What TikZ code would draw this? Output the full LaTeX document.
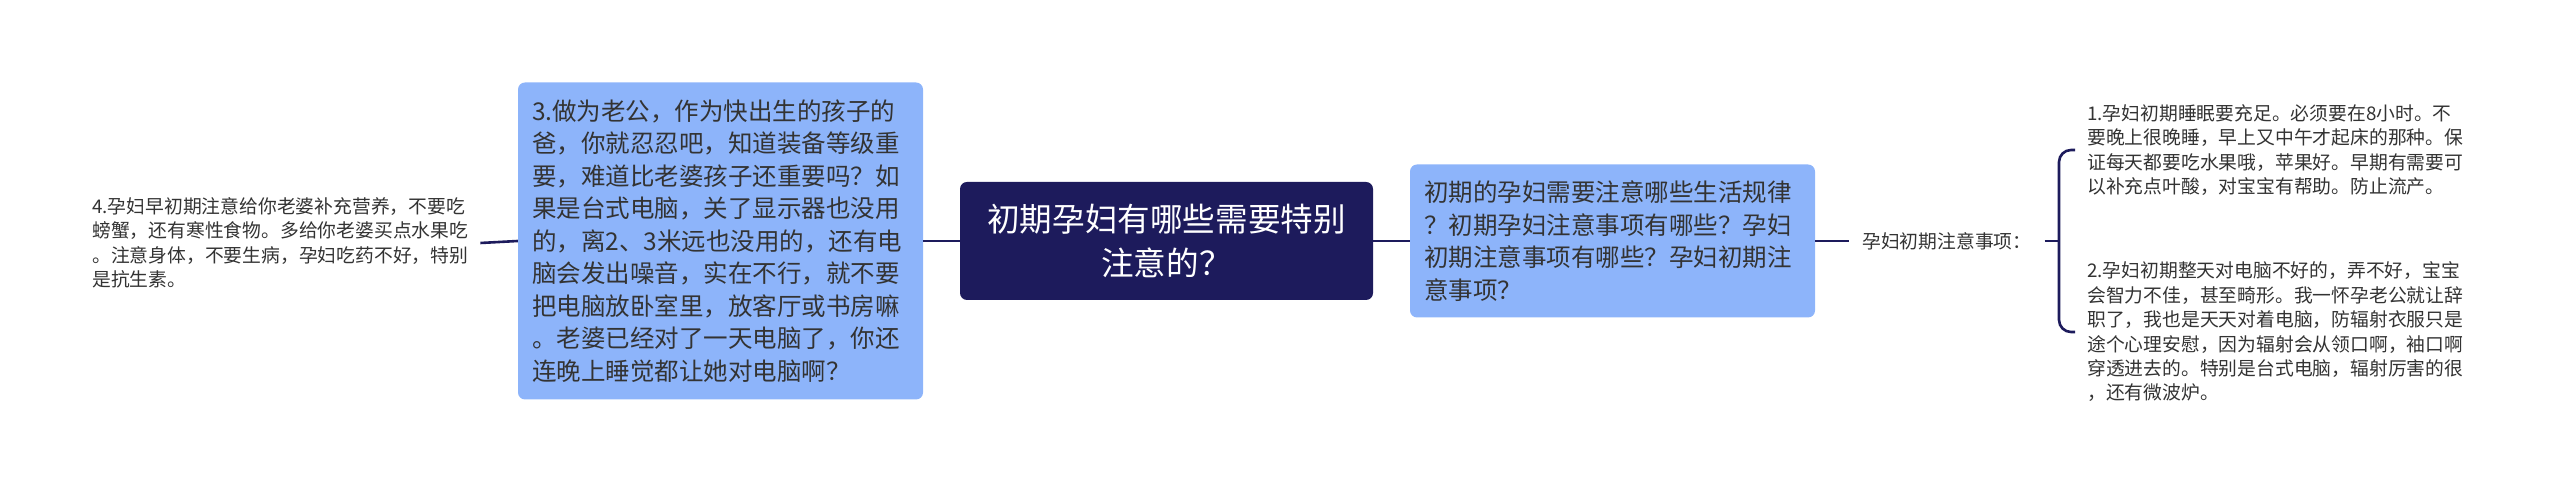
\documentclass[tikz,border=0pt]{standalone}
\usepackage{fontspec}
\setmainfont{Noto Sans CJK SC}
\usepackage{tikz}
\usetikzlibrary{arrows}

\definecolor{marine}{HTML}{1D1B5C}
\definecolor{bleu}{HTML}{8DB4FA}
\definecolor{encre}{HTML}{333333}

\begin{document}
\begin{tikzpicture}[x=1pt,y=1pt]
	\tikzstyle{trait}=[draw=marine, line width=2.6pt]
	\tikzstyle{racine}=[fill=marine, text=white, rounded corners=7pt, minimum width=413pt, minimum height=118pt, align=center, font=\fontsize{32.6}{43.3}\selectfont]
	\tikzstyle{bulle}=[fill=bleu, text=encre, rounded corners=7pt, text width=377pt, inner xsep=14pt, align=left, font=\fontsize{24.5}{32.5}\selectfont]
	\tikzstyle{feuille}=[text=encre, inner xsep=12pt, inner ysep=0pt, align=left, anchor=west, font=\fontsize{18.8}{24.4}\selectfont]
	\useasboundingbox (0,0) rectangle (2560,497);
	\node[racine] (C) at (1166.5,256){初期孕妇有哪些需要特别\\注意的？};
	\node[bulle, minimum height=317pt] (B3) at (720.5,256){3.做为老公，作为快出生的孩子的\\爸，你就忍忍吧，知道装备等级重\\要，难道比老婆孩子还重要吗？如\\果是台式电脑，关了显示器也没用\\的，离2、3米远也没用的，还有电\\脑会发出噪音，实在不行，就不要\\把电脑放卧室里，放客厅或书房嘛\\。老婆已经对了一天电脑了，你还\\连晚上睡觉都让她对电脑啊？};
	\node[bulle, minimum height=153pt] (B1) at (1612.5,256){初期的孕妇需要注意哪些生活规律\\？初期孕妇注意事项有哪些？孕妇\\初期注意事项有哪些？孕妇初期注\\意事项？};
	\node[feuille] (F4) at (80,254){4.孕妇早初期注意给你老婆补充营养，不要吃\\螃蟹，还有寒性食物。多给你老婆买点水果吃\\。注意身体，不要生病，孕妇吃药不好，特别\\是抗生素。};
	\node[feuille, inner xsep=13pt] (L) at (1849,256){孕妇初期注意事项：};
	\node[feuille] (F1) at (2075,347){1.孕妇初期睡眠要充足。必须要在8小时。不\\要晚上很晚睡，早上又中午才起床的那种。保\\证每天都要吃水果哦，苹果好。早期有需要可\\以补充点叶酸，对宝宝有帮助。防止流产。};
	\node[feuille] (F2) at (2075,165){2.孕妇初期整天对电脑不好的，弄不好，宝宝\\会智力不佳，甚至畸形。我一怀孕老公就让辞\\职了，我也是天天对着电脑，防辐射衣服只是\\途个心理安慰，因为辐射会从领口啊，袖口啊\\穿透进去的。特别是台式电脑，辐射厉害的很\\，还有微波炉。};
	\coordinate (fork) at (2059,256);
	\draw[trait] (F4.east) -- (B3.west);
	\draw[trait] (B3.east) -- (C.west);
	\draw[trait] (C.east) -- (B1.west);
	\draw[trait] (B1.east) -- (L.west);
	\draw[trait] (L.east) -- (fork);
	\draw[trait, rounded corners=12pt] (F1.west) -| (fork) |- (F2.west);
%	\draw[trait] (L.east) -- (F1.west);
%	\draw[trait] (L.east) -- (F2.west);
\end{tikzpicture}
\end{document}
